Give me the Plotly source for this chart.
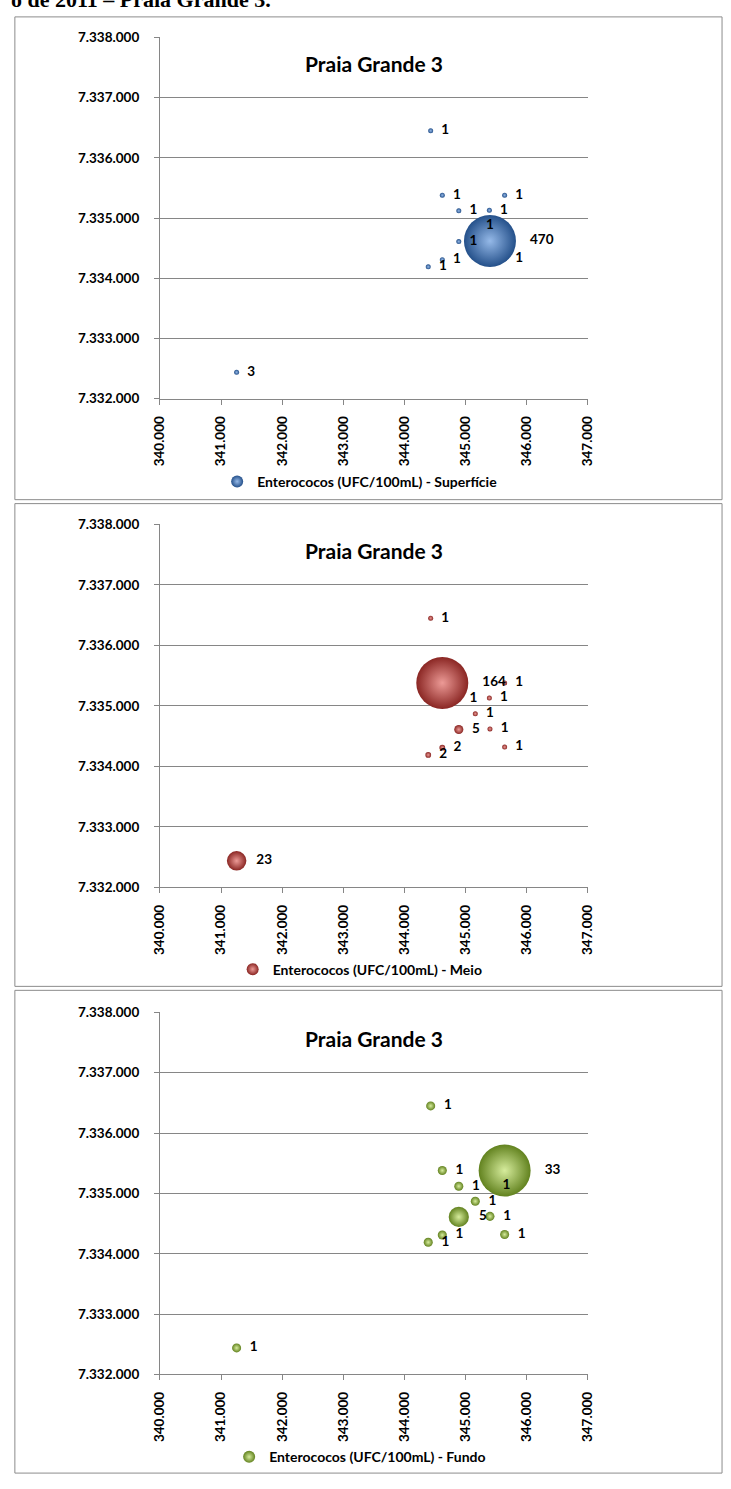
import plotly.graph_objects as go

# Sampling stations (UTM easting / northing, metres)
station_x = [344430, 344620, 345640, 344890, 345390, 345160, 344890, 345400, 344620, 345640, 344390, 341255]
station_y = [7336450, 7335380, 7335380, 7335120, 7335130, 7334870, 7334610, 7334620, 7334310, 7334320, 7334190, 7332440]

# Enterococci counts (UFC/100mL) per depth
superficie = [1, 1, 1, 1, 1, 1, 1, 470, 1, 1, 1, 3]
meio = [1, 164, 1, 1, 1, 1, 5, 1, 2, 1, 2, 23]
fundo = [1, 1, 33, 1, 1, 1, 5, 1, 1, 1, 1, 1]

series_names = [
    "Enterococos (UFC/100mL) - Superfície",
    "Enterococos (UFC/100mL) - Meio",
    "Enterococos (UFC/100mL) - Fundo",
]
chart_title = "Praia Grande 3"
header_text = "o de 2011 – Praia Grande 3."

x_range = [340000, 347000]
y_range = [7332000, 7338000]

W, H = 731, 1489
FONT = "Lato"
GRID = "#868686"

# (edge colour, highlight colour) for each sphere series
palettes = [("#24508A", "#95B9E8"), ("#8A2623", "#EC9A96"), ("#62821F", "#D6EC9C")]

# pixel layout of each panel: plot top, plot bottom, frame top, frame bottom, legend centre
panels = [
    dict(top=29.7, bottom=395.0, ftop=9, fbot=497, leg=479),
    dict(top=522.0, bottom=889.0, ftop=501, fbot=989, leg=972),
    dict(top=1015.3, bottom=1381.3, ftop=993, fbot=1481, leg=1465),
]
plot_left, plot_right = 154.3, 591.7
BUBBLE_MAX_D = 52.0


def py(p):
    return 1 - p / H


def px(p):
    return p / W


fig = go.Figure()
layout = dict(
    width=W, height=H, margin=dict(l=0, r=0, t=0, b=0),
    paper_bgcolor="white", plot_bgcolor="white",
    separators=",.", font=dict(family=FONT, color="black"),
    showlegend=True, annotations=[], shapes=[],
)

tick_font = dict(family=FONT, size=13.5, color="black", weight="bold")

for i, (vals, name, pan, pal) in enumerate(zip([superficie, meio, fundo], series_names, panels, palettes)):
    n = "" if i == 0 else str(i + 1)
    xa, ya = "x" + n, "y" + n
    legname = "legend" + n
    vmax = max(vals)
    sizeref = 2 * vmax / BUBBLE_MAX_D ** 2
    order = sorted(range(len(vals)), key=lambda k: vals[k])
    fig.add_trace(go.Scatter(
        x=[station_x[k] for k in order], y=[station_y[k] for k in order],
        mode="markers+text", name=name,
        text=["\u00a0\u00a0" + str(vals[k]) for k in order],
        textposition="middle right",
        textfont=dict(family=FONT, size=13.5, color="black", weight="bold"),
        marker=dict(size=[vals[k] for k in order], sizemode="area", sizeref=sizeref, sizemin=2.5,
                    color=pal[0], opacity=1, line=dict(width=0),
                    gradient=dict(type="radial", color=pal[1])),
        xaxis=xa, yaxis=ya, legend=legname, cliponaxis=False,
    ))
    layout["xaxis" + n] = dict(
        domain=[px(plot_left), px(plot_right)], anchor=ya, range=x_range,
        dtick=1000, tick0=340000, tickformat=",d", tickangle=-90,
        showgrid=False, zeroline=False, showline=True, linecolor=GRID, linewidth=1,
        ticks="outside", ticklen=5, tickcolor=GRID, ticklabelstandoff=6,
        tickfont=tick_font,
    )
    layout["yaxis" + n] = dict(
        domain=[py(pan["bottom"]), py(pan["top"])], anchor=xa, range=y_range,
        dtick=1000, tick0=7332000, tickformat=",d",
        showgrid=True, gridcolor=GRID, gridwidth=1, zeroline=False,
        showline=True, linecolor=GRID, linewidth=1,
        ticks="outside", ticklen=5, tickcolor=GRID, ticklabelstandoff=12,
        tickfont=tick_font,
    )
    layout[legname] = dict(
        x=px(plot_left + (plot_right - plot_left) / 2 - 14), y=py(pan["leg"]),
        xanchor="center", yanchor="middle",
        orientation="h", itemsizing="constant", itemwidth=30, bgcolor="rgba(0,0,0,0)",
        font=dict(family=FONT, size=14, color="black", weight="bold"),
    )
    layout["annotations"].append(dict(
        text="<b>" + chart_title + "</b>", xref="paper", yref="paper",
        x=px((plot_left + plot_right) / 2), y=py(pan["top"] + 26), xanchor="center", yanchor="middle",
        showarrow=False, font=dict(family=FONT, size=21, color="black"),
    ))
    layout["shapes"].append(dict(
        type="rect", xref="paper", yref="paper",
        x0=px(6), x1=px(729), y0=py(pan["fbot"]), y1=py(pan["ftop"]),
        line=dict(color="#8C8C8C", width=1), fillcolor="rgba(0,0,0,0)", layer="below",
    ))

layout["annotations"].append(dict(
    text="<b>" + header_text + "</b>", xref="paper", yref="paper",
    x=0, y=py(6), xanchor="left", yanchor="bottom", showarrow=False,
    font=dict(family="Liberation Serif", size=22, color="black"),
))

fig.update_layout(**layout)
fig.write_html("out.html")
